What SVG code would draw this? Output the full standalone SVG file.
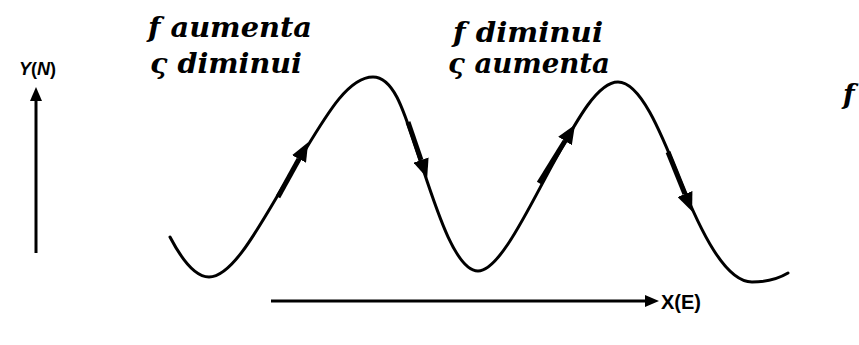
<svg xmlns="http://www.w3.org/2000/svg" width="859" height="345" viewBox="0 0 859 345">
<style>
.lbl{font-family:"DejaVu Serif","Liberation Serif",serif;font-style:italic;font-weight:bold;font-size:27px;fill:#000}
.ax{font-family:"Liberation Sans",Arial,sans-serif;font-weight:bold;fill:#000}
.axis{stroke:#000;stroke-width:3;fill:none}
.curve{stroke:#000;stroke-width:3;fill:none;stroke-linecap:round}
.flow{stroke:#000;stroke-width:5;fill:none}
</style>
<defs>
<marker id="axhead" markerUnits="userSpaceOnUse" markerWidth="14" markerHeight="12" refX="0" refY="6" orient="auto">
<path d="M0,0 L14,6 L0,12 Z" fill="#000"/>
</marker>
<marker id="flowhead" markerUnits="userSpaceOnUse" markerWidth="19" markerHeight="16" refX="0" refY="8" orient="auto">
<path d="M0,0 L19,8 L0,16 Z" fill="#000"/>
</marker>
</defs>
<g id="labels">
<text class="lbl" x="148" y="37" textLength="164" lengthAdjust="spacingAndGlyphs">f aumenta</text>
<text class="lbl" x="150" y="73" textLength="152" lengthAdjust="spacingAndGlyphs">ς diminui</text>
<text class="lbl" x="453" y="42" textLength="150" lengthAdjust="spacingAndGlyphs">f diminui</text>
<text class="lbl" x="448" y="73" textLength="162" lengthAdjust="spacingAndGlyphs">ς aumenta</text>
<text class="lbl" x="843" y="104">f</text>
</g>
<g id="y-axis">
<line class="axis" x1="36" y1="253" x2="36" y2="101" marker-end="url(#axhead)"/>
<text class="ax" x="19" y="75" font-size="18"><tspan font-style="italic">Y</tspan>(<tspan font-style="italic">N</tspan>)</text>
</g>
<g id="x-axis">
<line class="axis" x1="271" y1="301" x2="645" y2="301" marker-end="url(#axhead)"/>
<text class="ax" x="661" y="309" font-size="20">X(E)</text>
</g>
<g id="connectors">
<path class="curve" d="M170,237 C182,260 195,277 209,277 C235,277 265,215 293,170 C321,125 345,77 373,77 C395,77 405,115 420,160 C435,205 455,271 478,271 C500,271 530,205 555,160 C578,118 598,82 618,82 C640,82 660,130 680,180 C700,230 725,282 752,282 C765,282 778,279 788,273"/>
<line class="flow" x1="278" y1="197" x2="299" y2="159" marker-end="url(#flowhead)"/>
<line class="flow" x1="408" y1="122" x2="421" y2="160" marker-end="url(#flowhead)"/>
<line class="flow" x1="539" y1="183" x2="565" y2="141" marker-end="url(#flowhead)"/>
<line class="flow" x1="668" y1="152" x2="685" y2="194" marker-end="url(#flowhead)"/>
</g>
</svg>
